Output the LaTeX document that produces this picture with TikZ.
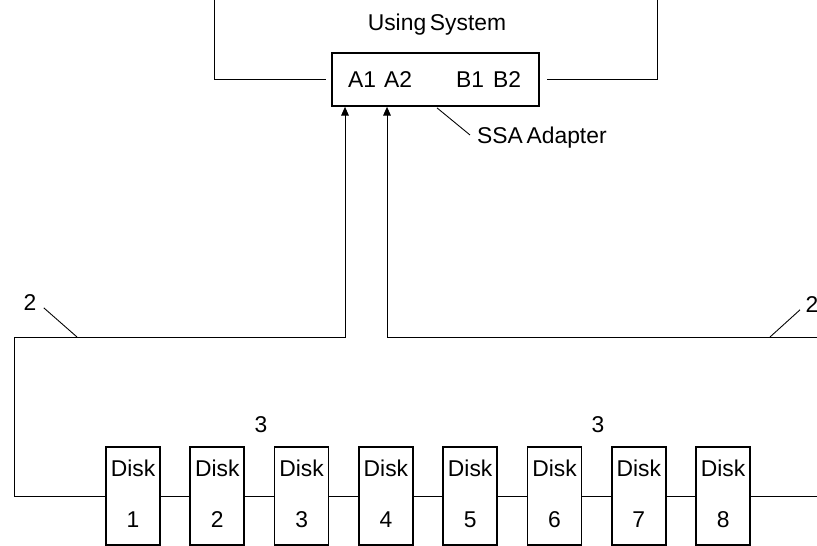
\documentclass[tikz,border=0pt]{standalone}
\usepackage{fontspec}
\setmainfont{Liberation Sans}[WordSpace=0.6]
\usetikzlibrary{arrows.meta,calc}

\begin{document}
\begin{tikzpicture}[
  disk/.style={rectangle, draw, line width=1pt, minimum width=1.08cm, minimum height=1.96cm, inner sep=0pt},
  adapterbox/.style={rectangle, draw, line width=1pt, minimum width=4.14cm, minimum height=1.06cm},
  arrow/.style={-{Triangle[length=5pt, width=4.4pt]}, line width=0.5pt},
  wire/.style={line width=0.5pt},
  label/.style={font=\fontsize{13}{15}\selectfont, inner sep=1pt},
]
\useasboundingbox (0,0) rectangle (16.34,10.92);

% === USING SYSTEM AND ADAPTER ===
\node[adapterbox] (adapter) at (8.71, 9.33) {};
\node[label] (usingsys) at (8.74, 10.42) {Using System};
\node[label] (a1) at (7.24, 9.32) {A1};
\node[label] (a2) at (7.96, 9.32) {A2};
\node[label] (b1) at (9.40, 9.32) {B1};
\node[label] (b2) at (10.14, 9.32) {B2};

\coordinate (sysL) at (4.28, 10.92);
\coordinate (sysR) at (13.14, 10.92);
\draw[wire] (sysL) |- ([xshift=-2.8pt]adapter.west);
\draw[wire] (sysR) |- ([xshift=4pt]adapter.east);

\node[label, anchor=west] (ssa) at (9.50, 8.16) {SSA Adapter};
\draw[wire] ($(adapter.south)+(0.03,-0.02)$) -- ([shift={(-0.1,0.06)}]ssa.west);

% === DISK LOOP ===
\foreach \i in {1,...,8} {
  \node[disk] (d\i) at ({2.66+1.686*(\i-1)}, 1.00) {};
  \node[label] (dlab\i) at ($(d\i)+(0,0.56)$) {Disk};
  \node[label] (dnum\i) at ($(d\i)+(0,-0.48)$) {\i};
}
\foreach \i [count=\j from 2] in {1,...,7}
  \draw[wire] (d\i.east) -- (d\j.west);

\coordinate (loopL) at (0.28, 4.18);
\coordinate (portA) at (6.90, 4.18);
\coordinate (portB) at (7.74, 4.18);
\coordinate (edgeR) at (16.34, 4.18);
\coordinate (edgeB) at (16.34, 1.00);

\draw[arrow] (d1.west) -| (loopL) -- (portA) -- (portA |- adapter.south);
\draw[arrow] (edgeR) -- (portB) -- (portB |- adapter.south);
\draw[wire] (d8.east) -- (edgeB);

% labels 2 and 3
\node[label] (two1) at (0.60, 4.86) {2};
\coordinate (tap2L) at (1.54, 4.18);
\draw[wire] ([shift={(3pt,3pt)}]two1.south east) -- (tap2L);

\node[label] (two2) at (16.24, 4.82) {2};
\coordinate (tap2R) at (15.40, 4.18);
\draw[wire] ([shift={(-2pt,3pt)}]two2.south west) -- (tap2R);

\node[label] (three1) at (5.22, 2.42) {3};
\node[label] (three2) at (11.96, 2.42) {3};
\end{tikzpicture}
\end{document}
